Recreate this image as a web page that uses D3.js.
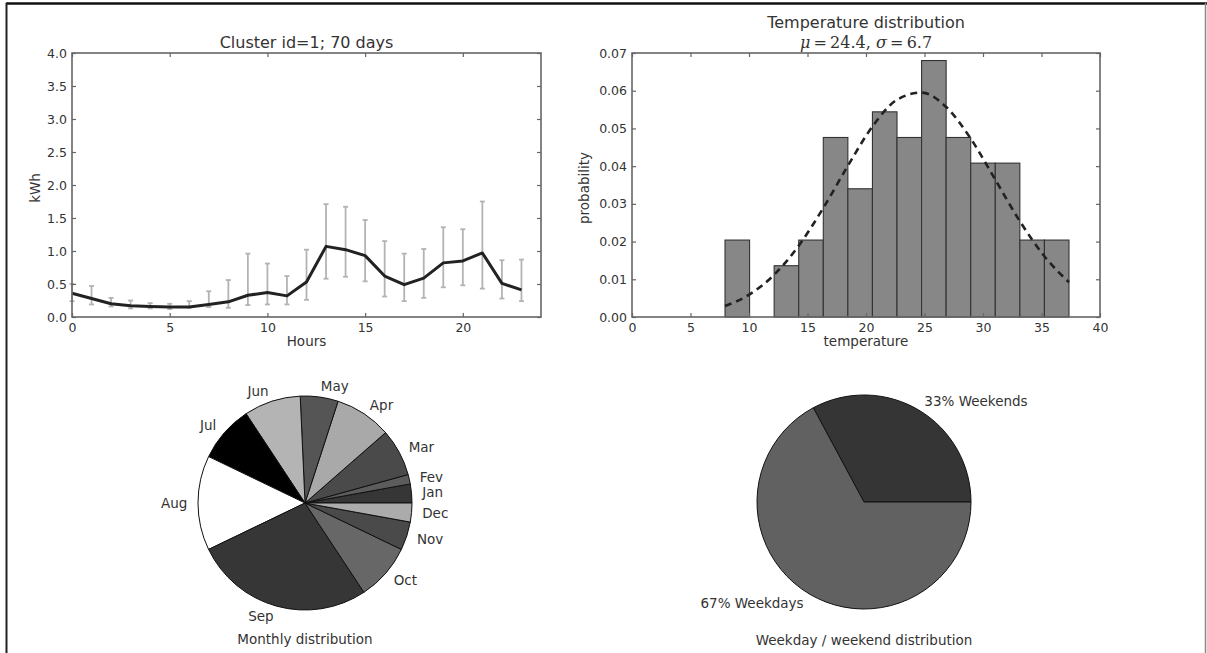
<!DOCTYPE html>
<html><head><meta charset="utf-8">
<script src="https://cdn.jsdelivr.net/npm/d3@7"></script>
<style>
body{margin:0;background:#fff}
text{font-family:"DejaVu Sans",sans-serif;fill:#333}
</style>
</head><body>
<svg id="c" width="1207" height="653"></svg>
<script>
// ---------- data ----------
const hours = [0,1,2,3,4,5,6,7,8,9,10,11,12,13,14,15,16,17,18,19,20,21,22,23];
const kwhMean = [0.36,0.28,0.20,0.17,0.16,0.15,0.15,0.19,0.23,0.33,0.37,0.32,0.53,1.07,1.02,0.93,0.62,0.49,0.59,0.82,0.85,0.97,0.51,0.41];
const kwhLow  = [0.24,0.19,0.16,0.13,0.13,0.12,0.14,0.15,0.14,0.18,0.19,0.19,0.26,0.58,0.61,0.54,0.31,0.24,0.29,0.45,0.48,0.43,0.28,0.24];
const kwhHigh = [0.50,0.47,0.29,0.25,0.21,0.20,0.24,0.39,0.56,0.96,0.81,0.62,1.02,1.71,1.67,1.47,1.15,0.96,1.03,1.36,1.33,1.75,0.86,0.87];
const hourTicks = [0,5,10,15,20];
const kwhTicks = [0,0.5,1,1.5,2,2.5,3,3.5,4];

const tempBinEdges = [7.95,10.05,12.15,14.25,16.35,18.45,20.55,22.65,24.75,26.85,28.95,31.05,33.15,35.25,37.35];
const tempProb = [0.0204,0,0.0136,0.0204,0.0476,0.0340,0.0544,0.0476,0.0680,0.0476,0.0408,0.0408,0.0204,0.0204];
const normalFit = [0.0029,0.0060,0.0112,0.0189,0.0289,0.0401,0.0505,0.0576,0.0595,0.0557,0.0473,0.0364,0.0254,0.0161,0.0092];
const tempTicks = [0,5,10,15,20,25,30,35,40];
const probTicks = [0,0.01,0.02,0.03,0.04,0.05,0.06,0.07];

const months = ["Jan","Fev","Mar","Apr","May","Jun","Jul","Aug","Sep","Oct","Nov","Dec"];
const monthDays = [2,1,5,6,4,6,6,10,19,6,3,2];
const monthColors = ["#363636","#5c5c5c","#4a4a4a","#a9a9a9","#555555","#b4b4b4","#000000","#ffffff","#363636","#676767","#4a4a4a","#ababab"];

const dayTypes = ["33% Weekends","67% Weekdays"];
const dayCounts = [23,47];
const dayColors = ["#353535","#616161"];

// ---------- drawing ----------
const svg = d3.select("#c");

// outer frame
svg.append("line").attr("x1",6).attr("x2",1207).attr("y1",3.5).attr("y2",3.5).attr("stroke","#111").attr("stroke-width",2.5);
svg.append("line").attr("x1",6.5).attr("x2",6.5).attr("y1",3).attr("y2",653).attr("stroke","#222").attr("stroke-width",2);
svg.append("line").attr("x1",1205.5).attr("x2",1205.5).attr("y1",3).attr("y2",653).attr("stroke","#888").attr("stroke-width",1.5);

function frameAxes(g, x, y, xt, yt, xfmt, yfmt, L, R, T, B){
  const tick = 4;
  g.append("g").attr("transform",`translate(0,${B})`)
    .call(d3.axisBottom(x).tickValues(xt).tickFormat(xfmt).tickSizeInner(-tick).tickSizeOuter(0).tickPadding(6));
  g.append("g").attr("transform",`translate(0,${T})`)
    .call(d3.axisTop(x).tickValues(xt).tickFormat("").tickSizeInner(-tick).tickSizeOuter(0));
  g.append("g").attr("transform",`translate(${L},0)`)
    .call(d3.axisLeft(y).tickValues(yt).tickFormat(yfmt).tickSizeInner(-tick).tickSizeOuter(0).tickPadding(5));
  g.append("g").attr("transform",`translate(${R},0)`)
    .call(d3.axisRight(y).tickValues(yt).tickFormat("").tickSizeInner(-tick).tickSizeOuter(0));
  g.selectAll(".domain").remove();
  g.selectAll(".tick line").attr("stroke","#666").attr("stroke-width",1.2);
  g.selectAll(".tick text").style("font-size","12.5px").style("font-family","'DejaVu Sans',sans-serif").attr("fill","#444");
  g.append("rect").attr("x",L).attr("y",T).attr("width",R-L).attr("height",B-T)
    .attr("fill","none").attr("stroke","#666").attr("stroke-width",1.6);
}

// ---- chart 1: hourly kWh ----
{
  const L=72,R=541,T=53,B=317;
  const x = d3.scaleLinear().domain([0,24]).range([L,R]);
  const y = d3.scaleLinear().domain([0,4]).range([B,T]);
  const g = svg.append("g");
  const eb = g.append("g").attr("stroke","#b3b3b3").attr("stroke-width",1.8);
  hours.forEach((h,i)=>{
    eb.append("line").attr("x1",x(h)).attr("x2",x(h)).attr("y1",y(kwhLow[i])).attr("y2",y(kwhHigh[i]));
    eb.append("line").attr("x1",x(h)-2.5).attr("x2",x(h)+2.5).attr("y1",y(kwhLow[i])).attr("y2",y(kwhLow[i]));
    eb.append("line").attr("x1",x(h)-2.5).attr("x2",x(h)+2.5).attr("y1",y(kwhHigh[i])).attr("y2",y(kwhHigh[i]));
  });
  g.append("path").datum(hours.map((h,i)=>[h,kwhMean[i]]))
    .attr("d",d3.line().x(d=>x(d[0])).y(d=>y(d[1])))
    .attr("fill","none").attr("stroke","#222").attr("stroke-width",3).attr("stroke-linejoin","round");
  frameAxes(g,x,y,hourTicks,kwhTicks,d3.format(".0f"),d3.format(".1f"),L,R,T,B);
  g.append("text").attr("x",(L+R)/2).attr("y",47.5).attr("text-anchor","middle").style("font-size","16px").text("Cluster id=1; 70 days");
  g.append("text").attr("x",(L+R)/2).attr("y",346).attr("text-anchor","middle").style("font-size","13.5px").text("Hours");
  g.append("text").attr("transform",`translate(40,188) rotate(-90)`).attr("text-anchor","middle").style("font-size","13.5px").text("kWh");
}

// ---- chart 2: temperature histogram ----
{
  const L=632,R=1100,T=53,B=317;
  const x = d3.scaleLinear().domain([0,40]).range([L,R]);
  const y = d3.scaleLinear().domain([0,0.07]).range([B,T]);
  const g = svg.append("g");
  tempProb.forEach((p,i)=>{
    if(p<=0) return;
    g.append("rect").attr("x",x(tempBinEdges[i])).attr("width",x(tempBinEdges[i+1])-x(tempBinEdges[i]))
      .attr("y",y(p)).attr("height",y(0)-y(p))
      .attr("fill","#878787").attr("stroke","#333").attr("stroke-width",1.1);
  });
  g.append("path").datum(tempBinEdges.map((e,i)=>[e,normalFit[i]]))
    .attr("d",d3.line().curve(d3.curveMonotoneX).x(d=>x(d[0])).y(d=>y(d[1])))
    .attr("fill","none").attr("stroke","#222").attr("stroke-width",2.6).attr("stroke-dasharray","7,5");
  frameAxes(g,x,y,tempTicks,probTicks,d3.format(".0f"),d3.format(".2f"),L,R,T,B);
  g.append("text").attr("x",(L+R)/2).attr("y",27.5).attr("text-anchor","middle").style("font-size","16px").text("Temperature distribution");
  const sub = g.append("text").attr("x",(L+R)/2).attr("y",47.5).attr("text-anchor","middle")
    .style("font-size","16px").style("font-family","'DejaVu Serif','Liberation Serif',serif").attr("fill","#444");
  sub.append("tspan").style("font-style","italic").text("μ");
  sub.append("tspan").text("\u2009=\u200924.4, ");
  sub.append("tspan").style("font-style","italic").text("σ");
  sub.append("tspan").text("\u2009=\u20096.7");
  g.append("text").attr("x",(L+R)/2).attr("y",346).attr("text-anchor","middle").style("font-size","13.5px").text("temperature");
  g.append("text").attr("transform",`translate(589,188) rotate(-90)`).attr("text-anchor","middle").style("font-size","13.5px").text("probability");
}

// ---- pies ----
function drawPie(cx, cy, r, values, labels, colors, title, titleY){
  const g = svg.append("g").attr("transform",`translate(${cx},${cy})`);
  const pie = d3.pie().sort(null).startAngle(Math.PI/2).endAngle(Math.PI/2 - 2*Math.PI);
  const arcs = pie(values);
  const arc = d3.arc().innerRadius(0).outerRadius(r);
  g.selectAll("path.s").data(arcs).join("path").attr("class","s")
    .attr("d",arc).attr("fill",(d,i)=>colors[i]).attr("stroke","#111").attr("stroke-width",1);
  arcs.forEach((d,i)=>{
    const a = (d.startAngle+d.endAngle)/2;
    const lx = 1.1*r*Math.sin(a), ly = -1.1*r*Math.cos(a);
    g.append("text").attr("x",lx).attr("y",ly).attr("dy","0.35em")
      .attr("text-anchor", lx>0 ? "start" : "end")
      .style("font-size","13.5px").text(labels[i]);
  });
  svg.append("text").attr("x",cx).attr("y",titleY).attr("text-anchor","middle").style("font-size","13.5px").text(title);
}
drawPie(305,503,107,monthDays,months,monthColors,"Monthly distribution",644);
drawPie(864,502,107,dayCounts,dayTypes,dayColors,"Weekday / weekend distribution",645);
</script>
</body></html>
